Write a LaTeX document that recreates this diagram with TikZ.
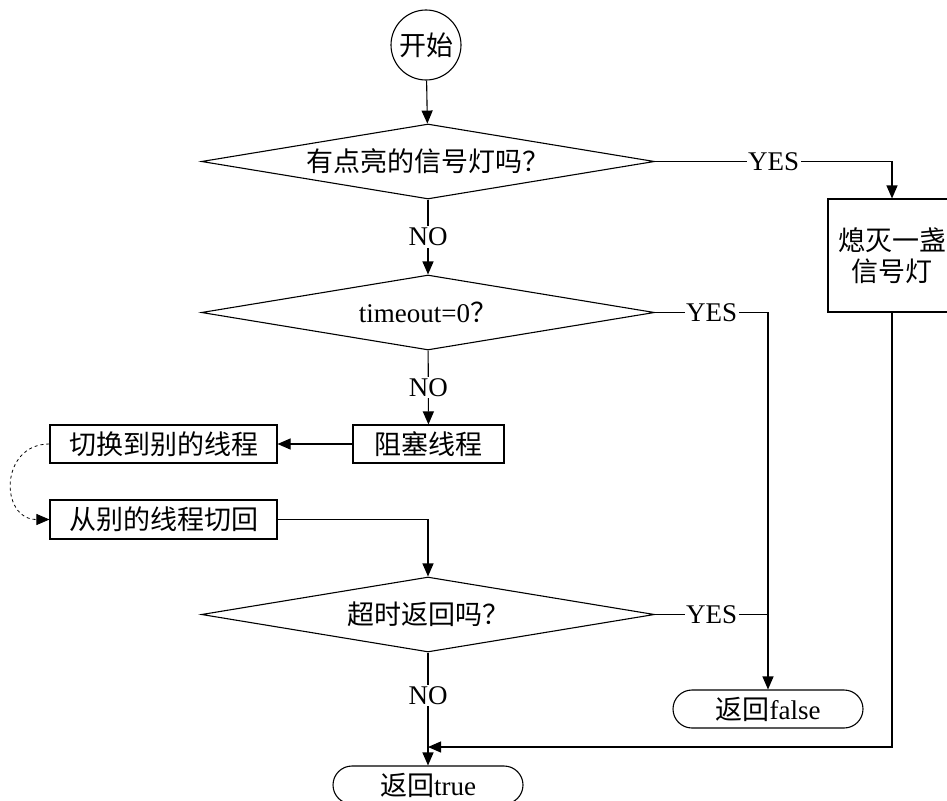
\documentclass[tikz,border=0pt]{standalone}
\usepackage{fontspec}
\setmainfont{Liberation Serif}
\newfontfamily\cjk{Noto Sans CJK SC}
\usetikzlibrary{shapes.geometric,arrows.meta}

\begin{document}
\begin{tikzpicture}[x=1pt,y=-1pt,>={Triangle[length=13pt,width=11pt]},
  line width=1.1pt,font=\fontsize{27}{31}\selectfont,
  decision/.style={diamond,draw,aspect=6,inner sep=0pt,
    minimum width=453pt,minimum height=75pt},
  process/.style={rectangle,draw,inner sep=0pt,minimum height=38pt},
  terminal/.style={rectangle,draw,rounded corners=19pt,inner sep=0pt,
    minimum width=190pt,minimum height=38pt},
  answer/.style={fill=white,inner sep=1.5pt}]
  % Page
  \clip (0,0) rectangle (947,800);
  \useasboundingbox (0,0) rectangle (947,800);
  %
  % Nodes
  \node[circle,draw,minimum size=70pt,inner sep=0pt] (start) at (426,45) {\cjk 开始};
  \node[decision] (q1) at (428,161.5) {\cjk 有点亮的信号灯吗？};
  \node[decision] (q2) at (428,312.5) {timeout=0{\cjk ？}};
  \node[process,minimum width=151pt] (block) at (428.5,444) {\cjk 阻塞线程};
  \node[process,minimum width=227pt] (switch) at (163.5,444) {\cjk 切换到别的线程};
  \node[process,minimum width=227pt,minimum height=39pt] (resume) at (163.5,519.5) {\cjk 从别的线程切回};
  \node[decision] (q3) at (428,614.5) {\cjk 超时返回吗？};
  \node[process,minimum width=128pt,minimum height=113pt,align=center] (off) at (892,255.5)
    {\cjk 熄灭一盏\\\cjk 信号灯};
  \node[terminal] (fail) at (768,709) {{\cjk 返回}false};
  \node[terminal] (done) at (428,785) {{\cjk 返回}true};
  \coordinate (merge) at (428,747);
  %
  % Connectors
  \draw[->] (start) -- (q1);
  \draw[->] (q1.east) -- node[answer] {YES} (q1.east -| off.north) -- (off.north);
  \draw[->] (q1) -- node[answer] {NO} (q2);
  \draw[->] (q2.east) -- node[answer] {YES} (q2.east -| fail.north) -- (fail.north);
  \draw[->] (q2) -- node[answer] {NO} (block);
  \draw[->] (block) -- (switch);
  \draw[->,dashed,line width=0.8pt] (switch.west) .. controls +(-50,0) and +(-50,0) .. (resume.west);
  \draw[->] (resume.east) -| (q3.north);
  \draw (q3.east) -- node[answer] {YES} (q3.east -| fail.north);
  \draw[->] (q3) -- node[answer,pos=0.38] {NO} (done);
  \draw[->] (off.south) |- (merge);
  %
\end{tikzpicture}
\end{document}
